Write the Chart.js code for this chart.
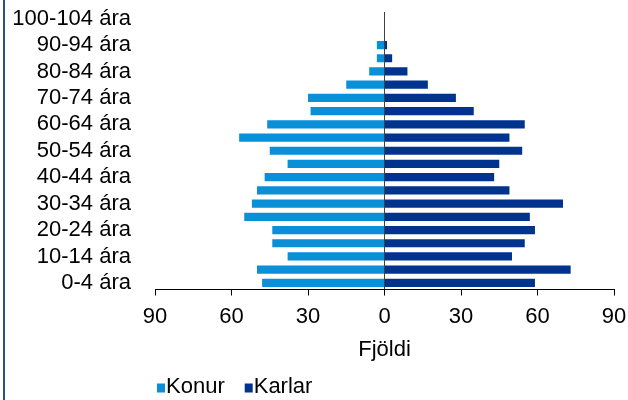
<!DOCTYPE html>
<html>
<head>
<meta charset="utf-8">
<script src="https://cdn.jsdelivr.net/npm/chart.js@4"></script>
<style>
  html, body { margin:0; padding:0; background:#fff; }
  #wrap { position:relative; width:628px; height:400px; }
  #frame { position:absolute; left:3px; top:0; width:2px; height:400px; background:#2b4c9b; }
</style>
</head>
<body>
<div id="wrap">
  <div id="frame"></div>
  <canvas id="pyramid" width="628" height="400"></canvas>
</div>
<script>
/* DATA (bottom to top) */
const ageGroups = ["0-4 ára","5-9 ára","10-14 ára","15-19 ára","20-24 ára","25-29 ára",
  "30-34 ára","35-39 ára","40-44 ára","45-49 ára","50-54 ára","55-59 ára","60-64 ára",
  "65-69 ára","70-74 ára","75-79 ára","80-84 ára","85-89 ára","90-94 ára","95-99 ára","100-104 ára"];
const konur  = [48,50,38,44,44,55,52,50,47,38,45,57,46,29,30,15,6,3,3,0,0];
const karlar = [59,73,50,55,59,57,70,49,43,45,54,49,55,35,28,17,9,3,1,0,0];
const xTicks = [-90,-60,-30,0,30,60,90];

const FONT = { family:"'Liberation Sans', Arial, sans-serif", size:22 };
const FONT_CSS = "22px 'Liberation Sans', Arial, sans-serif";

/* small legend under the axis title: square + name, drawn close together */
const bottomLegend = {
  id:"bottomLegend",
  afterDraw(chart){
    const ctx = chart.ctx;
    let x = chart.chartArea.left + 2;
    const base = 393;
    ctx.save();
    ctx.font = FONT_CSS;
    ctx.textBaseline = "alphabetic";
    ctx.textAlign = "left";
    chart.data.datasets.forEach(ds=>{
      ctx.fillStyle = ds.backgroundColor;
      ctx.fillRect(x, base - 9.5, 8, 9);
      ctx.fillStyle = "#000";
      ctx.fillText(ds.label, x + 9, base);
      x += 9 + ctx.measureText(ds.label).width + 20;
    });
    ctx.restore();
  }
};

new Chart(document.getElementById("pyramid"), {
  type:"bar",
  data:{
    labels:ageGroups,
    datasets:[
      { label:"Konur", data:konur.map(v=>-v), backgroundColor:"#0a8fd9" },
      { label:"Karlar", data:karlar, backgroundColor:"#00338e" }
    ]
  },
  options:{
    indexAxis:"y",
    responsive:false,
    animation:false,
    layout:{ padding:{ left:13, right:14, top:12, bottom:27.5 } },
    datasets:{ bar:{ barPercentage:0.62, categoryPercentage:1 } },
    scales:{
      x:{
        stacked:true,
        min:-90, max:90,
        afterBuildTicks: s => { s.ticks = xTicks.map(v=>({ value:v })); },
        afterFit: s => { s.height = 83; s.paddingLeft = 0; s.paddingRight = 0; },
        ticks:{ color:"#000", font:FONT, padding:8, callback: v => Math.abs(v) },
        grid:{
          drawOnChartArea:true,
          color: c => c.tick && c.tick.value === 0 ? "#404040" : "rgba(0,0,0,0)",
          tickColor:"#000",
          tickLength:6
        },
        border:{ color:"#000", width:1 },
        title:{ display:true, text:"Fjöldi", color:"#000", font:FONT, padding:{ top:0, bottom:9 } }
      },
      y:{
        stacked:true,
        reverse:true,
        afterFit: s => { s.width = 142; s.paddingTop = 0; s.paddingBottom = 0; },
        ticks:{ color:"#000", font:FONT, padding:3, autoSkip:false,
          callback:(v,i) => i % 2 === 0 ? ageGroups[i] : "" },
        grid:{ display:true, drawOnChartArea:false, tickLength:21, tickColor:"rgba(0,0,0,0)" },
        border:{ display:false }
      }
    },
    plugins:{
      legend:{ display:false },
      tooltip:{ enabled:false }
    }
  },
  plugins:[bottomLegend]
});
</script>
</body>
</html>
